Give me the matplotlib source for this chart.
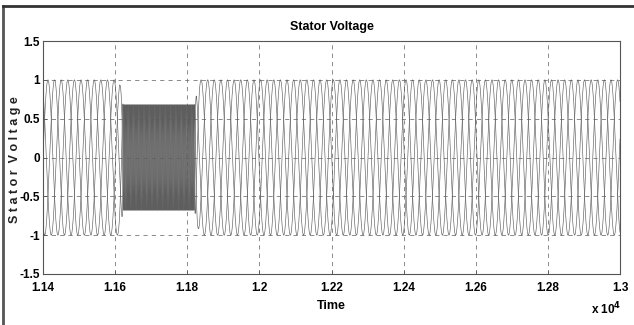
import numpy as np
import matplotlib.pyplot as plt
from matplotlib.ticker import FuncFormatter
from matplotlib.lines import Line2D

# signal description (time in samples)
seg_times = [11400, 11612, 11622, 11820, 11834, 13000]
seg_amps = [1.0, 1.0, 0.68, 0.68, 1.0, 1.0]
seg_periods = [55, 55, 7, 7, 55, 55]
phase_shifts_deg = [0, -120, 120]

xticks = [11400, 11600, 11800, 12000, 12200, 12400, 12600, 12800, 13000]
yticks = [-1.5, -1, -0.5, 0, 0.5, 1, 1.5]

t = np.linspace(seg_times[0], seg_times[-1], 60000)
amp = np.interp(t, seg_times, seg_amps)
per = np.interp(t, seg_times, seg_periods)
dt = np.gradient(t)
theta = 2 * np.pi * np.cumsum(dt / per)

plt.rcParams['font.family'] = ['Liberation Sans Narrow', 'Liberation Sans', 'DejaVu Sans']

fig = plt.figure(figsize=(6.34, 3.25), dpi=100)
fig.patch.set_facecolor('white')
ax = fig.add_axes([43 / 634, 1 - 274 / 325, 577 / 634, 233 / 325])

for ph in phase_shifts_deg:
    ax.plot(t, amp * np.sin(theta + np.deg2rad(ph)), color='#5e5e5e', linewidth=0.45)

ax.set_xlim(seg_times[0], seg_times[-1])
ax.set_ylim(-1.5, 1.5)
ax.set_xticks(xticks)
ax.set_yticks(yticks)
ax.xaxis.set_major_formatter(FuncFormatter(lambda v, p: '%g' % (v / 1e4)))
ax.yaxis.set_major_formatter(FuncFormatter(lambda v, p: '%g' % v))
ax.tick_params(direction='in', length=3, width=0.6, color='#555555', labelsize=8.5)
ax.tick_params(axis='x', pad=6)
ax.tick_params(axis='y', pad=2)
for lab in ax.get_xticklabels() + ax.get_yticklabels():
    lab.set_fontweight('bold')
ax.grid(True, color='#777777', linestyle=(0, (5, 5)), linewidth=0.6)
for s in ax.spines.values():
    s.set_color('#555555')
    s.set_linewidth(0.8)

ax.set_title('Stator Voltage', fontsize=9, fontweight='bold', pad=8)
ax.set_xlabel('Time', fontsize=9, fontweight='bold', labelpad=4)
fig.text(15 / 634, 1 - 160 / 325, 'S t a t o r  V o l t a g e', rotation=90, fontsize=9,
         fontweight='bold', ha='center', va='center', color='#222222')
fig.text(606 / 634, 1 - 309 / 325, r'x 10$^{\mathbf{4}}$', fontsize=8.5, fontweight='bold',
         ha='center', va='center')

# frame of the cropped figure
fig.add_artist(Line2D([3 / 634, 3 / 634], [0, 1 - 6 / 325], color='#555555', linewidth=2))
fig.add_artist(Line2D([3 / 634, 1], [1 - 6 / 325, 1 - 6 / 325], color='#333333', linewidth=2))

fig.savefig('out.png', dpi=100, facecolor='white')
